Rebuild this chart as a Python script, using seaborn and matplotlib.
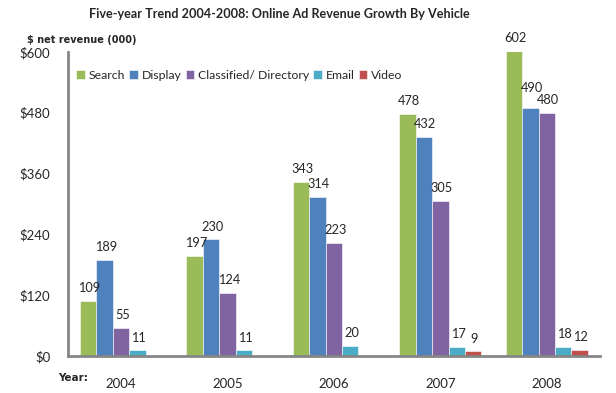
import numpy as np
import pandas as pd
import seaborn as sns
from matplotlib import pyplot

years = ["2004", "2005", "2006", "2007", "2008"]
vehicles = ["Search", "Display", "Classified/ Directory", "Email", "Video"]
search = [109, 197, 343, 478, 602]
display = [189, 230, 314, 432, 490]
classified = [55, 124, 223, 305, 480]
email = [11, 11, 20, 17, 18]
video = [np.nan, np.nan, np.nan, 9, 12]
colors = ["#9BBB59", "#4F81BD", "#8064A2", "#4BACC6", "#C0504D"]
yticks = [0, 120, 240, 360, 480, 600]

sns.set_style("white")
pyplot.rcParams['font.family'] = ['Lato', 'DejaVu Sans']

series = [search, display, classified, email, video]
rows = []
for name, vals in zip(vehicles, series):
    for y, v in zip(years, vals):
        rows.append({"year": y, "vehicle": name, "revenue": v})
df = pd.DataFrame(rows)

fig = pyplot.figure(figsize=(6.16, 3.93), dpi=100)
ax = fig.add_axes([0.110, 0.094, 0.864, 0.774])

sns.barplot(data=df, x="year", y="revenue", hue="vehicle", hue_order=vehicles,
            palette=colors, width=0.77, saturation=1, ax=ax, legend=True,
            edgecolor="white", linewidth=0.4)

# label each bar (skip missing video bars); lift a label when the next
# bar in the group is almost as tall, like Excel does
for i, cont in enumerate(ax.containers):
    for bar in cont:
        if bar is None or np.isnan(bar.get_height()):
            continue
        h = bar.get_height()
        xc = bar.get_x() + bar.get_width() / 2
        k = int(round(xc))
        lift = 0
        if i + 1 < len(series):
            nh = series[i + 1][k]
            if not np.isnan(nh) and abs(nh - h) < 25 and h > 100:
                lift = 5
        ax.annotate(str(int(round(h))), (xc, h),
                    xytext=(1, 5 + lift), textcoords="offset points",
                    ha="center", va="bottom", fontsize=9.2,
                    annotation_clip=False)

ax.set_ylim(0, 600)
ax.set_yticks(yticks)
ax.set_yticklabels(["$" + str(t) for t in yticks], fontsize=9.5)
ax.tick_params(axis="x", labelsize=9.5, pad=12)
ax.tick_params(axis="y", pad=9)
ax.set_xlabel("")
ax.set_ylabel("")

for s in ["top", "right"]:
    ax.spines[s].set_visible(False)
for s in ["left", "bottom"]:
    ax.spines[s].set_color("#868686")
    ax.spines[s].set_linewidth(2)

ax.legend(loc="upper left", bbox_to_anchor=(0.0, 0.97), ncol=5, frameon=False,
          fontsize=8.8, handlelength=0.7, handleheight=0.7, handletextpad=0.3,
          columnspacing=0.35, borderaxespad=0.3)

fig.text(0.453, 0.964, "Five-year Trend 2004-2008: Online Ad Revenue Growth By Vehicle",
         ha="center", va="center", fontsize=9.1, fontweight="bold")
fig.text(0.044, 0.898, "$ net revenue (000)", ha="left", va="center",
         fontsize=7.0, fontweight="bold", family="DejaVu Sans")
fig.text(0.094, 0.038, "Year:", ha="left", va="center",
         fontsize=7.5, fontweight="bold", family="DejaVu Sans")

pyplot.savefig("out.png", dpi=100)
